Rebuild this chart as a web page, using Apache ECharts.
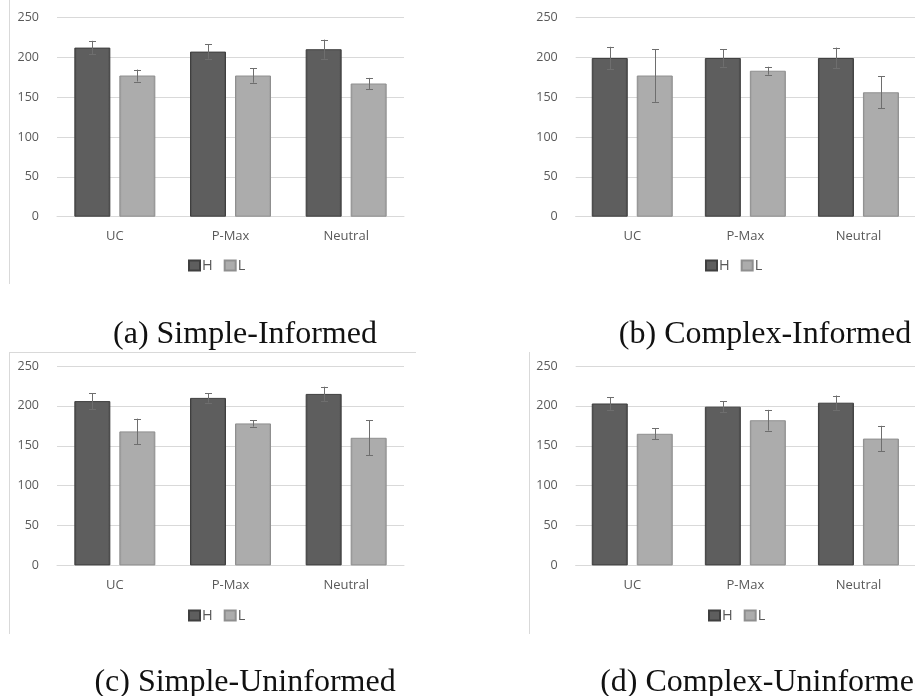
<!DOCTYPE html>
<html><head><meta charset="utf-8">
<script src="https://cdn.jsdelivr.net/npm/echarts@6/dist/echarts.min.js"></script>
<style>html,body{margin:0;padding:0;background:#fff}#c{width:915px;height:696px}</style>
</head><body><div id="c"></div>
<script>
const categories = ['UC', 'P-Max', 'Neutral'];
const yTicks = [0, 50, 100, 150, 200, 250];
const legendNames = ['H', 'L'];
const captions = ['(a) Simple-Informed', '(b) Complex-Informed', '(c) Simple-Uninformed', '(d) Complex-Uninformed'];

// panel (a) Simple-Informed
const aH = [212, 207, 210];
const aHerr = [8.5, 9, 12];
const aL = [177, 177, 167];
const aLerr = [7.5, 9, 7];
// panel (b) Complex-Informed
const bH = [199, 199, 199];
const bHerr = [14, 11, 13];
const bL = [177, 183, 156];
const bLerr = [33, 5, 20];
// panel (c) Simple-Uninformed
const cH = [206, 210, 215];
const cHerr = [10, 6, 9];
const cL = [168, 178, 160];
const cLerr = [16, 4, 22];
// panel (d) Complex-Uninformed
const dH = [203, 199, 204];
const dHerr = [8, 7, 9];
const dL = [165, 182, 159];
const dLerr = [7, 13, 16];

const panels = [
  {H: aH, He: aHerr, L: aL, Le: aLerr},
  {H: bH, He: bHerr, L: bL, Le: bLerr},
  {H: cH, He: cHerr, L: cL, Le: cLerr},
  {H: dH, He: dHerr, L: dL, Le: dLerr}
];

const BAR_W = 36, GAP = 9;
const gridPos = [
  {left: 57, top: 17.3},
  {left: 575.7, top: 17.3},
  {left: 57, top: 366},
  {left: 575.7, top: 366}
];
const legendPos = [
  {left: 188, top: 258},
  {left: 705, top: 258},
  {left: 188, top: 608},
  {left: 708, top: 608}
];
const captionPos = [
  {x: 240, y: 330},
  {x: 760, y: 330},
  {x: 240, y: 678},
  {x: 760, y: 678}
];
const FONT = '"Open Sans", "Noto Sans", sans-serif';

const hColor = {type: 'linear', x: 0, y: 0, x2: 1, y2: 0, colorStops: [
  {offset: 0, color: '#444'}, {offset: 0.07, color: '#5e5e5e'}, {offset: 0.93, color: '#5e5e5e'}, {offset: 1, color: '#444'}]};
const lColor = {type: 'linear', x: 0, y: 0, x2: 1, y2: 0, colorStops: [
  {offset: 0, color: '#979797'}, {offset: 0.07, color: '#acacac'}, {offset: 0.93, color: '#acacac'}, {offset: 1, color: '#979797'}]};

const grids = [], xAxes = [], yAxes = [], series = [], legends = [], titles = [];
panels.forEach((p, i) => {
  grids.push({left: gridPos[i].left, top: gridPos[i].top, width: 347, height: 199.4, containLabel: false});
  xAxes.push({type: 'category', gridIndex: i, data: categories,
    axisLine: {show: true, lineStyle: {color: '#d9d9d9', width: 1}},
    axisTick: {show: false},
    axisLabel: {color: '#595959', fontFamily: FONT, fontSize: 13, margin: 13}});
  yAxes.push({type: 'value', gridIndex: i, min: 0, max: 250, interval: 50,
    axisLine: {show: false}, axisTick: {show: false},
    splitLine: {lineStyle: {color: '#d9d9d9', width: 1}},
    axisLabel: {color: '#595959', fontFamily: FONT, fontSize: 12.5, margin: 18}});
  const bar = (name, data, color, border) => ({
    type: 'bar', name, xAxisIndex: i, yAxisIndex: i, data,
    barWidth: BAR_W, barGap: (GAP / BAR_W * 100) + '%',
    itemStyle: {color, borderColor: border, borderWidth: 1},
    emphasis: {disabled: true}, silent: true
  });
  series.push(bar('H', p.H, hColor, '#3f3f3f'));
  series.push(bar('L', p.L, lColor, '#8f8f8f'));
  const errSeries = (vals, errs, offset) => ({
    type: 'custom', xAxisIndex: i, yAxisIndex: i, silent: true, z: 5,
    data: vals.map((v, k) => [k, v - errs[k], v + errs[k]]),
    renderItem: function (params, api) {
      const lo = api.coord([api.value(0), api.value(1)]);
      const hi = api.coord([api.value(0), api.value(2)]);
      const x = Math.round(lo[0] + offset) + 0.5;
      const cap = 3.5;
      const st = {stroke: '#6e6e6e', lineWidth: 1};
      return {type: 'group', children: [
        {type: 'line', shape: {x1: x, y1: lo[1], x2: x, y2: hi[1]}, style: st},
        {type: 'line', shape: {x1: x - cap, y1: Math.round(lo[1]) + 0.5, x2: x + cap, y2: Math.round(lo[1]) + 0.5}, style: st},
        {type: 'line', shape: {x1: x - cap, y1: Math.round(hi[1]) + 0.5, x2: x + cap, y2: Math.round(hi[1]) + 0.5}, style: st}
      ]};
    }
  });
  series.push(errSeries(p.H, p.He, -(BAR_W + GAP) / 2));
  series.push(errSeries(p.L, p.Le, (BAR_W + GAP) / 2));
  legends.push({left: legendPos[i].left, top: legendPos[i].top, data: legendNames, orient: 'horizontal',
    icon: 'rect', padding: 0,
    itemWidth: 11, itemHeight: 10, itemGap: 11, selectedMode: false,
    textStyle: {color: '#595959', fontFamily: FONT, fontSize: 14.5, padding: [0, 0, 0, -3]}});
  titles.push({text: captions[i], left: captionPos[i].x, top: captionPos[i].y, textAlign: 'center', textVerticalAlign: 'middle',
    textStyle: {fontFamily: '"Liberation Serif", serif', fontWeight: 'normal', fontSize: 32, color: '#111'}});
});

const chart = echarts.init(document.getElementById('c'), null, {renderer: 'canvas'});
chart.setOption({
  animation: false,
  backgroundColor: '#fff',
  title: titles,
  grid: grids, xAxis: xAxes, yAxis: yAxes, series, legend: legends,
  graphic: [
    {type: 'line', shape: {x1: 9.5, y1: 0, x2: 9.5, y2: 284}, style: {stroke: '#d9d9d9', lineWidth: 1}, silent: true},
    {type: 'line', shape: {x1: 9, y1: 352.5, x2: 416, y2: 352.5}, style: {stroke: '#d9d9d9', lineWidth: 1}, silent: true},
    {type: 'line', shape: {x1: 9.5, y1: 352, x2: 9.5, y2: 634}, style: {stroke: '#d9d9d9', lineWidth: 1}, silent: true},
    {type: 'line', shape: {x1: 529.5, y1: 352, x2: 529.5, y2: 634}, style: {stroke: '#d9d9d9', lineWidth: 1}, silent: true}
  ]
});
</script></body></html>
